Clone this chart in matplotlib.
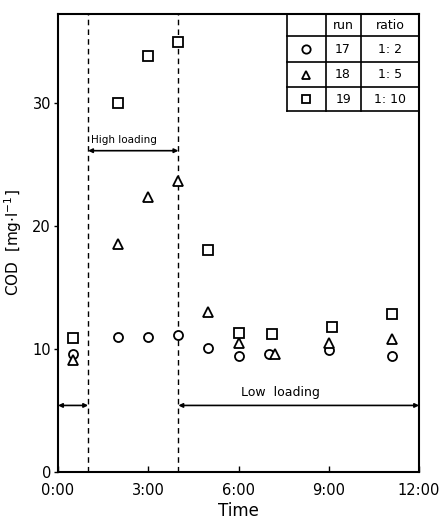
import numpy as np
import matplotlib.pyplot as plt

# COD during the loading test, runs 17-19
t_circle = [0.5, 2.0, 3.0, 4.0, 5.0, 6.0, 7.0, 9.0, 11.1]
cod_circle = [9.6, 11.0, 11.0, 11.1, 10.1, 9.4, 9.6, 9.9, 9.4]

t_triangle = [0.5, 2.0, 3.0, 4.0, 5.0, 6.0, 7.2, 9.0, 11.1]
cod_triangle = [9.1, 18.5, 22.3, 23.6, 13.0, 10.5, 9.6, 10.5, 10.8]

t_square = [0.5, 2.0, 3.0, 4.0, 5.0, 6.0, 7.1, 9.1, 11.1]
cod_square = [10.9, 30.0, 33.8, 34.9, 18.0, 11.3, 11.2, 11.8, 12.8]

runs = ["17", "18", "19"]
ratios = ["1: 2", "1: 5", "1: 10"]
markers = ["o", "^", "s"]

x_ticks = [0, 3, 6, 9, 12]
x_ticklabels = ["0:00", "3:00", "6:00", "9:00", "12:00"]
y_ticks = [0, 10, 20, 30]

high_start, high_end = 1.0, 4.0

fig = plt.figure(figsize=(4.43, 5.22), dpi=100)
ax = fig.add_axes([0.131, 0.096, 0.815, 0.877])

mk = dict(linestyle="none", markerfacecolor="white", markeredgecolor="black",
          markeredgewidth=1.3, zorder=3)
ax.plot(t_circle, cod_circle, marker="o", markersize=6.5, **mk)
ax.plot(t_triangle, cod_triangle, marker="^", markersize=7, **mk)
ax.plot(t_square, cod_square, marker="s", markersize=6.5, **mk)

# loading phase boundaries
for xv in (high_start, high_end):
    ax.axvline(xv, color="black", linestyle=(0, (4, 3)), linewidth=1.0)

arrow = dict(arrowstyle="<|-|>", color="black", linewidth=1.2,
             mutation_scale=6, shrinkA=0, shrinkB=0)
ax.annotate("", xy=(high_start, 26.1), xytext=(high_end, 26.1), arrowprops=arrow)
ax.text(high_start + 0.08, 26.6, "High loading", fontsize=7.5, ha="left", va="bottom")
ax.annotate("", xy=(high_end, 5.4), xytext=(12, 5.4), arrowprops=arrow,
            annotation_clip=False)
ax.annotate("", xy=(0, 5.4), xytext=(high_start, 5.4), arrowprops=arrow,
            annotation_clip=False)
ax.text(7.4, 5.9, "Low  loading", fontsize=9, ha="center", va="bottom")

ax.set_xlim(0, 12)
ax.set_ylim(0, 37.2)
ax.set_xticks(x_ticks)
ax.set_xticklabels(x_ticklabels, fontsize=10.5)
ax.set_yticks(y_ticks)
ax.set_yticklabels([str(v) for v in y_ticks], fontsize=10.5)
ax.tick_params(axis="x", direction="in", length=4, width=1.0, pad=8)
ax.tick_params(axis="y", direction="out", length=3, width=1.0, pad=2)
for s in ax.spines.values():
    s.set_linewidth(1.5)

ax.set_xlabel("Time", fontsize=12, labelpad=3)
ax.set_ylabel("COD  [mg$\\cdot$l$^{-1}$]", fontsize=11, labelpad=6)

# legend table in the upper right corner
col_x = [0.634, 0.741, 0.838, 1.0]
row_y = [1.0, 0.952, 0.895, 0.841, 0.788]
tab = dict(transform=ax.transAxes, color="black", linewidth=1.2, clip_on=False)
for yv in row_y[1:]:
    ax.plot([col_x[0], col_x[-1]], [yv, yv], **tab)
for xv in col_x[:-1]:
    ax.plot([xv, xv], [row_y[0], row_y[-1]], **tab)

txt = dict(transform=ax.transAxes, ha="center", va="center", fontsize=9)
ax.text((col_x[1] + col_x[2]) / 2, (row_y[0] + row_y[1]) / 2, "run", **txt)
ax.text((col_x[2] + col_x[3]) / 2, (row_y[0] + row_y[1]) / 2, "ratio", **txt)
for i in range(3):
    yc = (row_y[i + 1] + row_y[i + 2]) / 2
    ax.plot([(col_x[0] + col_x[1]) / 2], [yc], marker=markers[i], markersize=6,
            transform=ax.transAxes, clip_on=False, **mk)
    ax.text((col_x[1] + col_x[2]) / 2, yc, runs[i], **txt)
    ax.text((col_x[2] + col_x[3]) / 2, yc, ratios[i], **txt)

fig.savefig("out.png", dpi=100)
